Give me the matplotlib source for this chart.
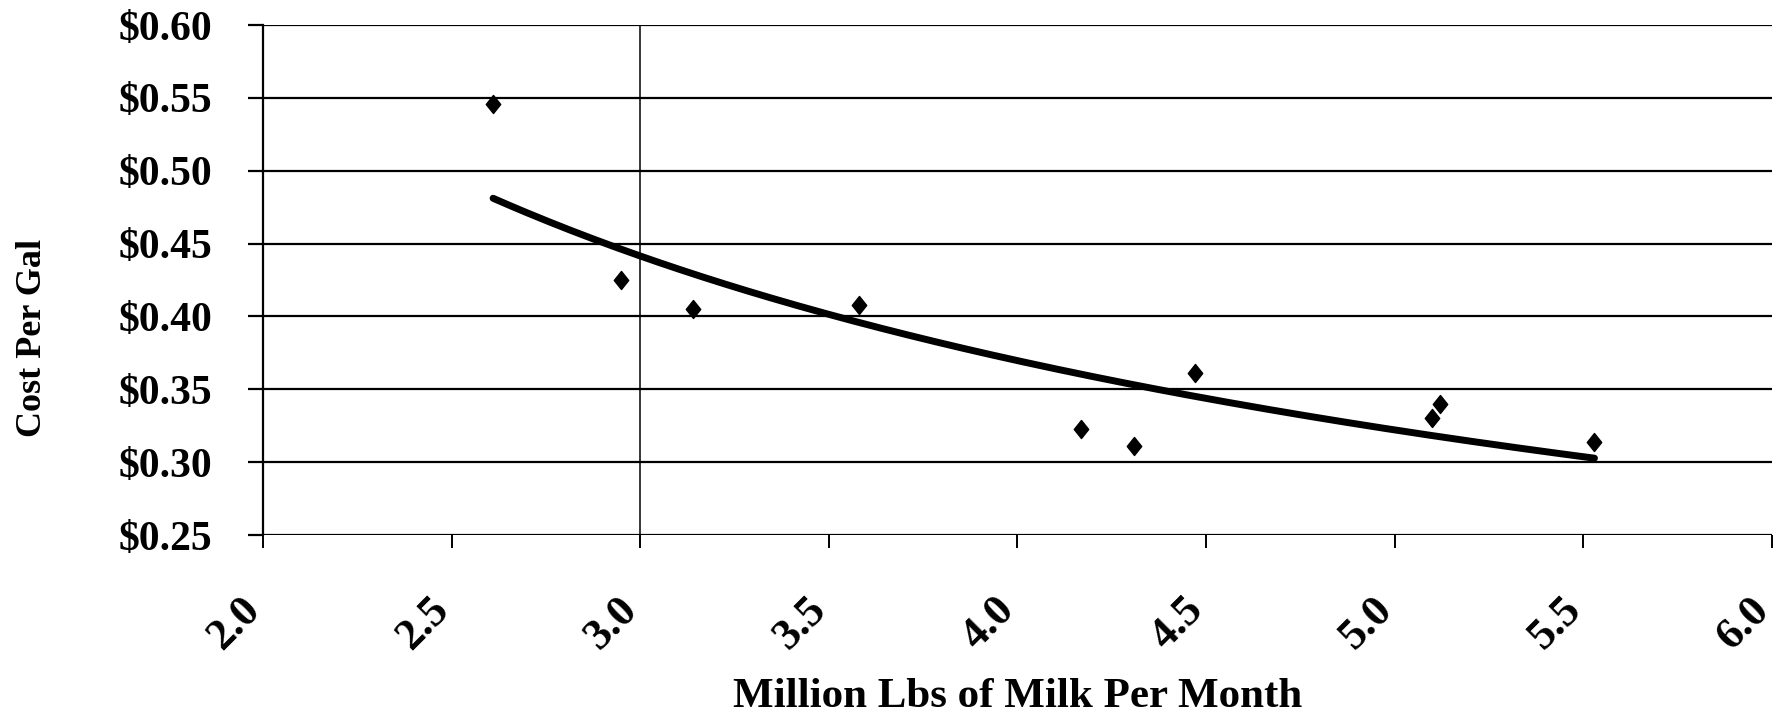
import numpy as np
import matplotlib

matplotlib.use("Agg")
import matplotlib.pyplot as plt
import matplotlib.transforms as mtransforms
from matplotlib.path import Path as MPath
from matplotlib.ticker import FuncFormatter

# monthly milk volume (million lbs) vs processing cost per gallon
milk_mlbs = [2.61, 2.95, 3.14, 3.58, 4.17, 4.31, 4.47, 5.10, 5.12, 5.53]
cost_per_gal = [0.546, 0.425, 0.405, 0.408, 0.323, 0.311, 0.361, 0.330, 0.340, 0.314]

x_ticks = [2.0, 2.5, 3.0, 3.5, 4.0, 4.5, 5.0, 5.5, 6.0]
y_ticks = [0.25, 0.30, 0.35, 0.40, 0.45, 0.50, 0.55, 0.60]

plt.rcParams["font.family"] = ["Liberation Serif", "DejaVu Serif"]
plt.rcParams["font.weight"] = "bold"

fig = plt.figure(figsize=(17.75, 7.15), dpi=100)
ax = fig.add_axes([263 / 1775, 0.2517, 0.850, 0.7133])

# power trendline, same as the spreadsheet's: ln y = b ln x + ln a
x = np.array(milk_mlbs)
y = np.array(cost_per_gal)
b, ln_a = np.polyfit(np.log(x), np.log(y), 1)
xs = np.linspace(x.min(), x.max(), 200)
ax.plot(xs, np.exp(ln_a) * xs ** b, color="black", lw=5, solid_capstyle="round", zorder=3)

# slightly tall diamond, like the scanned markers
diamond = MPath([(0, 1), (0.8, 0), (0, -1), (-0.8, 0), (0, 1)],
                [MPath.MOVETO, MPath.LINETO, MPath.LINETO, MPath.LINETO, MPath.CLOSEPOLY])
ax.plot(milk_mlbs, cost_per_gal, ls="none", marker=diamond, ms=13, color="black", zorder=4)

ax.set_xlim(2.0, 6.0)
ax.set_ylim(0.25, 0.60)
ax.set_xticks(x_ticks)
ax.set_yticks(y_ticks)
ax.xaxis.set_major_formatter(FuncFormatter(lambda v, _: f"{v:.1f}"))
ax.yaxis.set_major_formatter(FuncFormatter(lambda v, _: f"${v:.2f}"))

for v in y_ticks:
    ax.axhline(v, color="black", lw=1.6, zorder=1)
ax.axvline(3.0, color="black", lw=1.1, zorder=1)

for side in ("top", "right", "bottom"):
    ax.spines[side].set_visible(False)
ax.spines["left"].set_linewidth(1.6)

ax.tick_params(axis="y", direction="out", length=10.5, width=1.6, pad=26, labelsize=30)
ax.tick_params(axis="x", direction="out", length=9.5, width=1.4, pad=0, labelsize=32)
shift = mtransforms.ScaledTranslation(-0.23, -0.41, fig.dpi_scale_trans)
for lbl in ax.get_xticklabels():
    lbl.set_rotation(45)
    lbl.set_ha("right")
    lbl.set_va("top")
    lbl.set_rotation_mode("anchor")
    lbl.set_transform(lbl.get_transform() + shift)

ax.set_xlabel("Million Lbs of Milk Per Month", fontsize=31, fontweight="bold")
ax.xaxis.set_label_coords(0.5, -0.318)
ax.xaxis.label.set_va("center")
ax.set_ylabel("Cost Per Gal", fontsize=26, fontweight="bold")
ax.yaxis.set_label_coords(-0.153, 0.386)
ax.yaxis.label.set_va("center")

fig.savefig("out.png", dpi=100)
